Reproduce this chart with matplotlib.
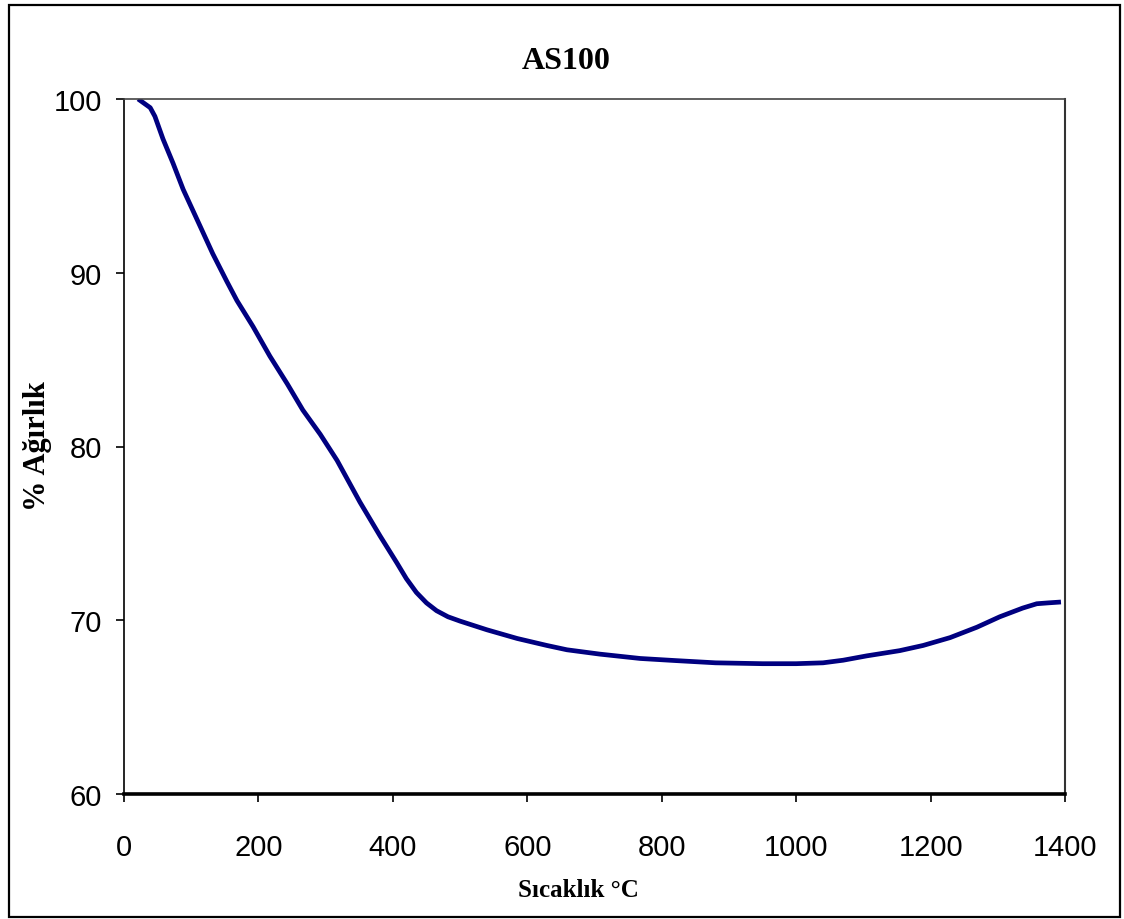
import matplotlib
matplotlib.use("Agg")
import matplotlib.pyplot as plt
from matplotlib.patches import Rectangle

# TGA curve
temperature = [21, 39, 46, 58, 73, 88, 113, 132, 153, 168, 192, 217, 243, 266,
               292, 317, 351, 381, 406, 420, 435, 450, 465, 482, 500, 540, 585,
               629, 659, 708, 768, 820, 880, 950, 1000, 1040, 1070, 1105,
               1154, 1189, 1229, 1269, 1303, 1337, 1358, 1375, 1394]
weight = [100.0, 99.5, 99.0, 97.7, 96.3, 94.8, 92.7, 91.1, 89.5, 88.4,
          86.9, 85.2, 83.6, 82.1, 80.7, 79.2, 76.8, 74.85, 73.3,
          72.4, 71.6, 71.0, 70.55, 70.2, 69.95, 69.45, 68.95, 68.55, 68.3,
          68.05, 67.8, 67.68, 67.55, 67.5, 67.5, 67.55, 67.7, 67.95, 68.25,
          68.55, 69.0, 69.6, 70.2, 70.7, 70.95, 71.0, 71.05]

x_ticks = [0, 200, 400, 600, 800, 1000, 1200, 1400]
y_ticks = [60, 70, 80, 90, 100]

W, H = 1124, 920
fig = plt.figure(figsize=(W / 100, H / 100), dpi=100)
ax = fig.add_axes([124 / W, 1 - 795 / H, (1065 - 124) / W, (795 - 100) / H])

ax.plot(temperature, weight, color="#000080", lw=3.4,
        solid_capstyle="butt", solid_joinstyle="round")

ax.set_xlim(0, 1400)
ax.set_ylim(60, 100)
ax.set_xticks(x_ticks)
ax.set_yticks(y_ticks)

tick_font = ["Liberation Sans Narrow", "Liberation Sans", "DejaVu Sans"]
for lab in ax.get_xticklabels() + ax.get_yticklabels():
    lab.set_family(tick_font)
    lab.set_fontsize(21)
ax.tick_params(axis="both", direction="out", length=6, width=1.2, color="black")
ax.tick_params(axis="x", pad=22)
ax.tick_params(axis="y", pad=10)

ax.spines["top"].set_linewidth(1.2)
ax.spines["top"].set_color("#444444")
ax.spines["right"].set_linewidth(1.5)
ax.spines["right"].set_color("#333333")
ax.spines["left"].set_linewidth(1.2)
ax.spines["bottom"].set_linewidth(2.6)

serif = ["Liberation Serif", "DejaVu Serif"]
fig.text(566 / W, 1 - 62 / H, "AS100", ha="center", va="center",
         fontsize=23, fontweight="bold", family=serif)
fig.text(578 / W, 1 - 891 / H, "Sıcaklık °C", ha="center", va="center",
         fontsize=18, fontweight="bold", family=serif)
fig.text(38 / W, 1 - 446 / H, "% Ağırlık", ha="center", va="center",
         rotation=90, fontsize=22, fontweight="bold", family=serif)

# outer frame
fig.patches.append(Rectangle((9 / W, 1 - 918 / H), (1120 - 9) / W, (918 - 6) / H,
                             transform=fig.transFigure, fill=False,
                             edgecolor="black", lw=1.6))

fig.savefig("out.png", dpi=100)
